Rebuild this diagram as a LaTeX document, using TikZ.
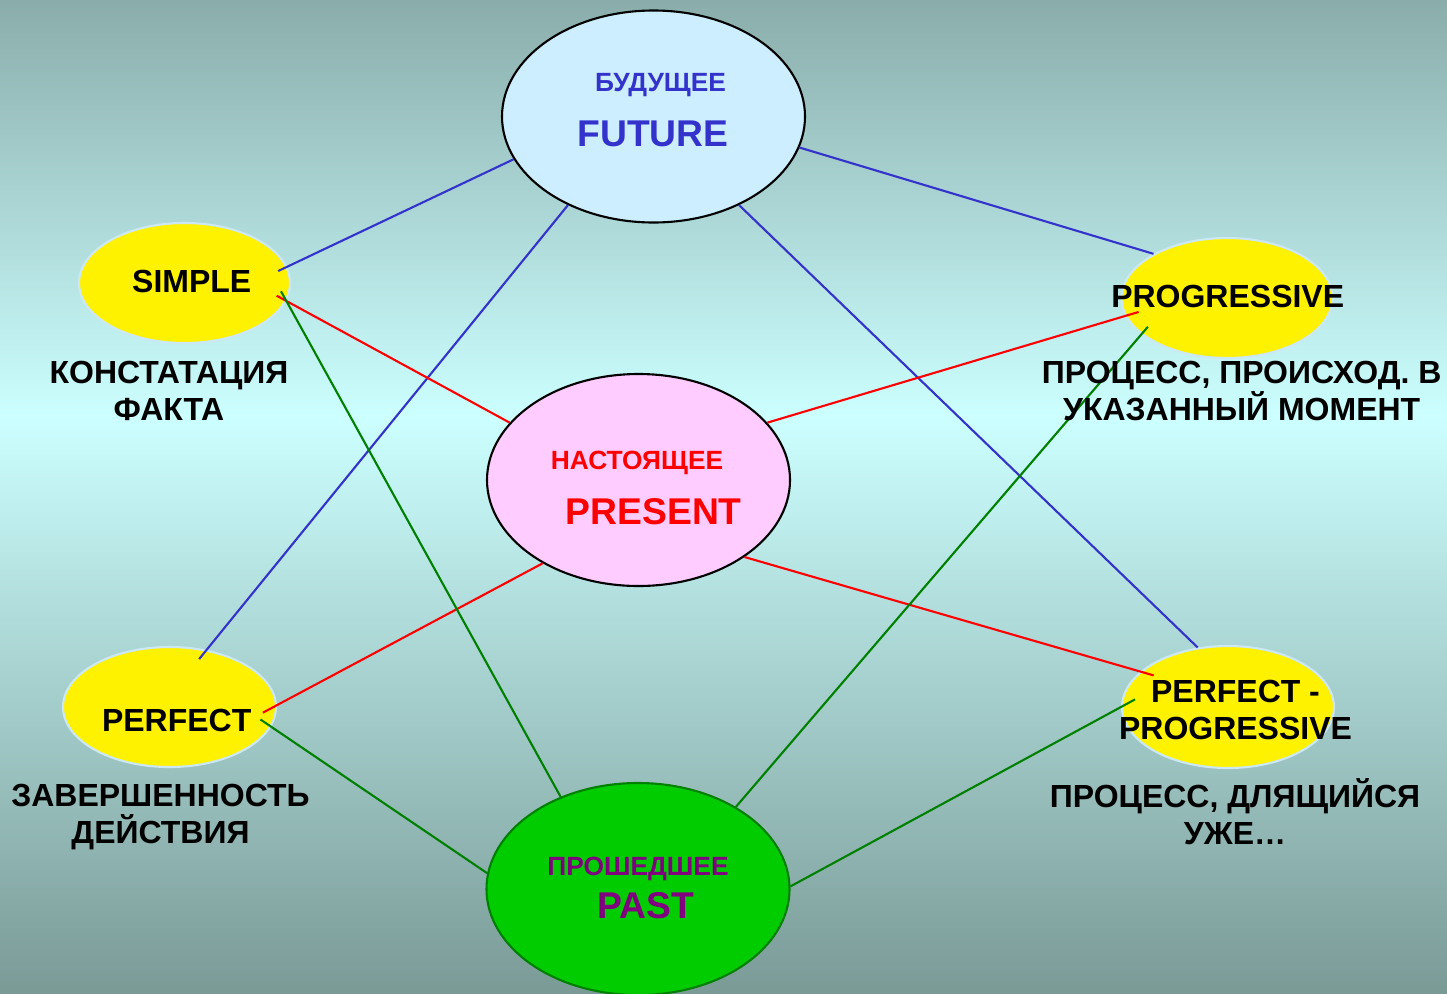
\documentclass[tikz,border=0pt]{standalone}
\usepackage{fontspec}
\setmainfont{Liberation Sans}
\usetikzlibrary{shapes.geometric}

\definecolor{bgtop}{HTML}{8AADAB}
\definecolor{bglight}{HTML}{CCFFFF}
\definecolor{bgbot}{HTML}{7A9A96}
\definecolor{futfill}{HTML}{CCEEFF}
\definecolor{futtext}{HTML}{3333CC}
\definecolor{presfill}{HTML}{FFCCFF}
\definecolor{pastfill}{HTML}{00CC00}
\definecolor{pasttext}{HTML}{800080}
\definecolor{rimblue}{HTML}{CCE8F4}
\definecolor{linegreen}{HTML}{008000}

\pgfdeclareverticalshading{bgshade}{100bp}{color(0bp)=(bgbot); color(25bp)=(bgbot); color(54bp)=(bglight); color(75bp)=(bgtop); color(100bp)=(bgtop)}

\tikzstyle{tense}=[ellipse, draw=black, line width=0.6pt, inner sep=0pt, minimum width=3.03cm, minimum height=2.12cm]
\tikzstyle{aspect}=[ellipse, fill=yellow, draw=rimblue, line width=0.6pt, inner sep=0pt, minimum width=2.11cm, minimum height=1.2cm]
\tikzstyle{link}=[line width=0.6pt]
\tikzstyle{big}=[font=\fontsize{10.6}{12}\selectfont\bfseries, inner sep=0pt, anchor=base]
\tikzstyle{small}=[font=\fontsize{7.5}{9}\selectfont\bfseries, inner sep=0pt, anchor=base]
\tikzstyle{note}=[font=\fontsize{9.1}{10.5}\selectfont\bfseries, inner sep=0pt, anchor=base, align=center]

\begin{document}
\begin{tikzpicture}
\shade[shading=bgshade] (0,-9.93) rectangle (14.47,0);
\useasboundingbox (0,-9.93) rectangle (14.47,0);
% tenses
\node[tense, fill=futfill] (future) at (6.535,-1.165) {};
\node[tense, fill=presfill] (present) at (6.385,-4.80) {};
\node[tense, fill=pastfill, draw=linegreen] (past) at (6.38,-8.89) {};
% aspects
\node[aspect] (simple) at (1.845,-2.83) {};
\node[aspect] (progressive) at (12.27,-2.98) {};
\node[aspect, minimum width=2.13cm] (perfect) at (1.695,-7.07) {};
\node[aspect, minimum width=2.12cm, minimum height=1.22cm] (perfprog) at (12.28,-7.07) {};

% links run a little way into the yellow ellipses
\draw[link, futtext, shorten >=-0.1cm] (future.197) -- (simple.9);
\draw[link, futtext, shorten >=-0.12cm] (future.226) -- (perfect.57);
\draw[link, futtext] (future.348) -- (progressive.149);
\draw[link, futtext] (future.314) -- (perfprog.117);
\draw[link, red, shorten <=-0.11cm] (simple.350) -- (present.156);
\draw[link, red, shorten >=-0.14cm] (present.24) -- (progressive.190);
\draw[link, red, shorten >=-0.16cm] (present.221) -- (perfect.1);
\draw[link, red, shorten >=-0.14cm] (present.324) -- (perfprog.158);
\draw[link, linegreen, shorten <=-0.11cm] (simple.350) -- (past.130);
\draw[link, linegreen, shorten <=-0.13cm] (perfect.349) -- (past.174);
\draw[link, linegreen, shorten >=-0.1cm] (past.40) -- (progressive.203);
\draw[link, linegreen, shorten >=-0.16cm] (past.1) -- (perfprog.180);

\node[small, futtext] (futru) at (6.605,-0.91) {БУДУЩЕЕ};
\node[big, futtext] (futen) at (6.53,-1.46) {FUTURE};
\node[small, red] (presru) at (6.37,-4.69) {НАСТОЯЩЕЕ};
\node[big, red] (presen) at (6.537,-5.24) {PRESENT};
\node[small, pasttext] (pastru) at (6.38,-8.75) {ПРОШЕДШЕЕ};
\node[big, pasttext] (pasten) at (6.46,-9.18) {PAST};

\node[note] (simplet) at (1.917,-2.92) {SIMPLE};
\node[note] (simplenote) at (1.69,-4.20) {КОНСТАТАЦИЯ\\ФАКТА};
\node[note] (progt) at (12.277,-3.07) {PROGRESSIVE};
\node[note] (prognote) at (12.417,-4.20) {ПРОЦЕСС, ПРОИСХОД. В\\УКАЗАННЫЙ МОМЕНТ};
\node[note] (perft) at (1.767,-7.31) {PERFECT};
\node[note] (perfnote) at (1.605,-8.43) {ЗАВЕРШЕННОСТЬ\\ДЕЙСТВИЯ};
\node[note] (perfprogt) at (12.355,-7.39) {PERFECT -\\PROGRESSIVE};
\node[note] (perfprognote) at (12.35,-8.44) {ПРОЦЕСС, ДЛЯЩИЙСЯ\\УЖЕ…};
\end{tikzpicture}
\end{document}
